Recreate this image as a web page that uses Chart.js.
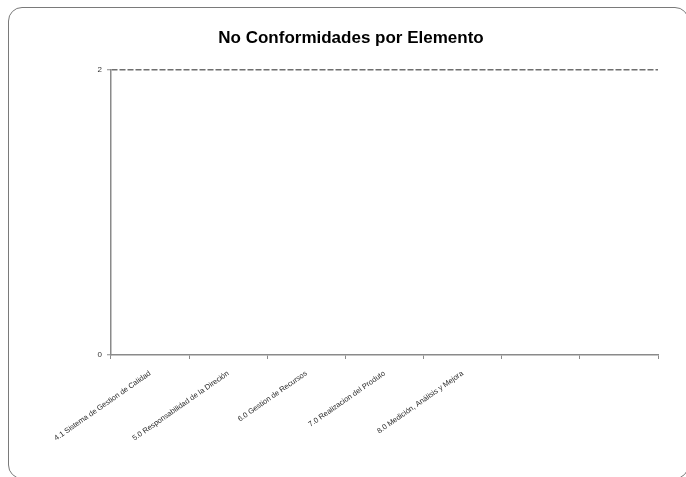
<!DOCTYPE html>
<html>
<head>
<meta charset="utf-8">
<script src="https://cdn.jsdelivr.net/npm/chart.js@4/dist/chart.umd.min.js"></script>
<style>
  html, body { margin: 0; padding: 0; background: #fff; }
  #wrap { position: relative; width: 686px; height: 477px; overflow: hidden; }
  #frame {
    position: absolute; left: 8px; top: 7px; width: 681px; height: 472px;
    border: 1.5px solid #7a7a7a; border-radius: 14px; box-sizing: border-box;
  }
  canvas { position: absolute; left: 0; top: 0; }
</style>
</head>
<body>
<div id="wrap">
  <div id="frame"></div>
  <canvas id="chart" width="686" height="477"></canvas>
</div>
<script>
// Elements of the quality standard (last two columns left blank)
const categories = [
  "4.1 Sistema de Gestion de Calidad",
  "5.0 Responsabilidad de la Direción",
  "6.0 Gestion de Recursos",
  "7.0 Realizacion del Produto",
  "8.0 Medición, Análisis y Mejora",
  "",
  ""
];
// Non-conformities counted per element
const noConformidades = [0, 0, 0, 0, 0, 0, 0];
// Value axis ticks
const yTicks = [0, 2];

const axisGray = "#8a8a8a";
const sans = "'Liberation Sans', Arial, sans-serif";

new Chart(document.getElementById("chart"), {
  type: "bar",
  data: {
    labels: categories,
    datasets: [{
      label: "No Conformidades",
      data: noConformidades,
      backgroundColor: "#9999ff",
      borderColor: "#000",
      borderWidth: 1
    }]
  },
  options: {
    responsive: false,
    animation: false,
    layout: { padding: { left: 44, right: 28, top: 0, bottom: 0 } },
    plugins: {
      legend: { display: false },
      tooltip: { enabled: false },
      title: {
        display: true,
        text: "No Conformidades por Elemento",
        color: "#000",
        font: { family: sans, size: 17, weight: "bold", lineHeight: 1.2 },
        padding: { top: 28, bottom: 21 }
      }
    },
    scales: {
      x: {
        offset: true,
        grid: {
          offset: true,
          drawOnChartArea: false,
          drawTicks: true,
          tickLength: 4,
          tickColor: axisGray,
          tickWidth: 1
        },
        border: { display: true, color: axisGray, width: 1.5 },
        ticks: {
          autoSkip: false,
          minRotation: 35,
          maxRotation: 35,
          padding: 10,
          color: "#2a2a2a",
          font: { family: sans, size: 7.5 }
        },
        afterFit: s => { s.height = 122; }
      },
      y: {
        min: yTicks[0],
        max: yTicks[yTicks.length - 1],
        afterBuildTicks: s => { s.ticks = yTicks.map(v => ({ value: v })); },
        grid: {
          color: c => (c.tick && c.tick.value === 0) ? "rgba(0,0,0,0)" : "#6f6f6f",
          lineWidth: 1.5,
          drawTicks: true,
          tickLength: 4,
          tickColor: axisGray,
          tickWidth: 1
        },
        border: { display: true, color: axisGray, width: 1.5, dash: [6, 2] },
        ticks: {
          padding: 5,
          color: "#333",
          font: { family: sans, size: 8 }
        },
        afterFit: s => { s.width = 67; }
      }
    }
  }
});
</script>
</body>
</html>
